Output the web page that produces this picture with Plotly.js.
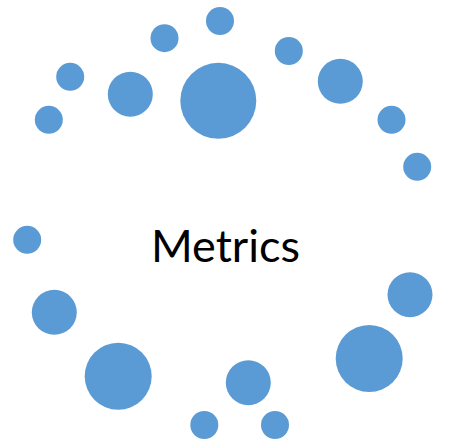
<!DOCTYPE html>
<html>
<head>
<meta charset="utf-8">
<script src="https://cdn.plot.ly/plotly-3.0.1.min.js"></script>
<style>html,body{margin:0;padding:0;background:#fff;}#chart{width:469px;height:440px;}</style>
</head>
<body>
<div id="chart"></div>
<script>
// Bubble positions (chart units) and diameters
const bubbleX = [220, 164.5, 288.8, 70.2, 130.3, 218.3, 340.3, 48.8, 391.5, 417.2, 27.2, 410, 54.3, 369.2, 118.2, 248.3, 204.3, 275];
const bubbleY = [21, 38.2, 51, 76.8, 94.2, 100.8, 81.3, 119.8, 119.8, 166.8, 239.8, 294.7, 312.3, 358.5, 376.2, 382.7, 425, 425];
const bubbleSize = [28, 28, 28, 28, 45, 76, 45, 28, 28, 28, 28, 45, 45, 67, 67, 45, 28, 28];
const centerLabel = "Metrics";

const trace = {
  type: 'scatter',
  mode: 'markers',
  x: bubbleX,
  y: bubbleY,
  marker: {
    size: bubbleSize,
    sizemode: 'diameter',
    color: '#5B9BD5',
    opacity: 1,
    line: {width: 0}
  },
  hoverinfo: 'none'
};

const layout = {
  width: 469,
  height: 440,
  margin: {l: 0, r: 0, t: 0, b: 0},
  paper_bgcolor: '#ffffff',
  plot_bgcolor: '#ffffff',
  showlegend: false,
  xaxis: {range: [0, 469], visible: false, fixedrange: true},
  yaxis: {range: [440, 0], visible: false, fixedrange: true},
  annotations: [{
    x: 225.8, y: 244.5, xref: 'x', yref: 'y',
    text: centerLabel,
    showarrow: false,
    xanchor: 'center', yanchor: 'middle',
    font: {family: 'Lato, Carlito, sans-serif', size: 45, color: '#000000'}
  }]
};

Plotly.newPlot('chart', [trace], layout, {displayModeBar: false, staticPlot: true});
</script>
</body>
</html>
